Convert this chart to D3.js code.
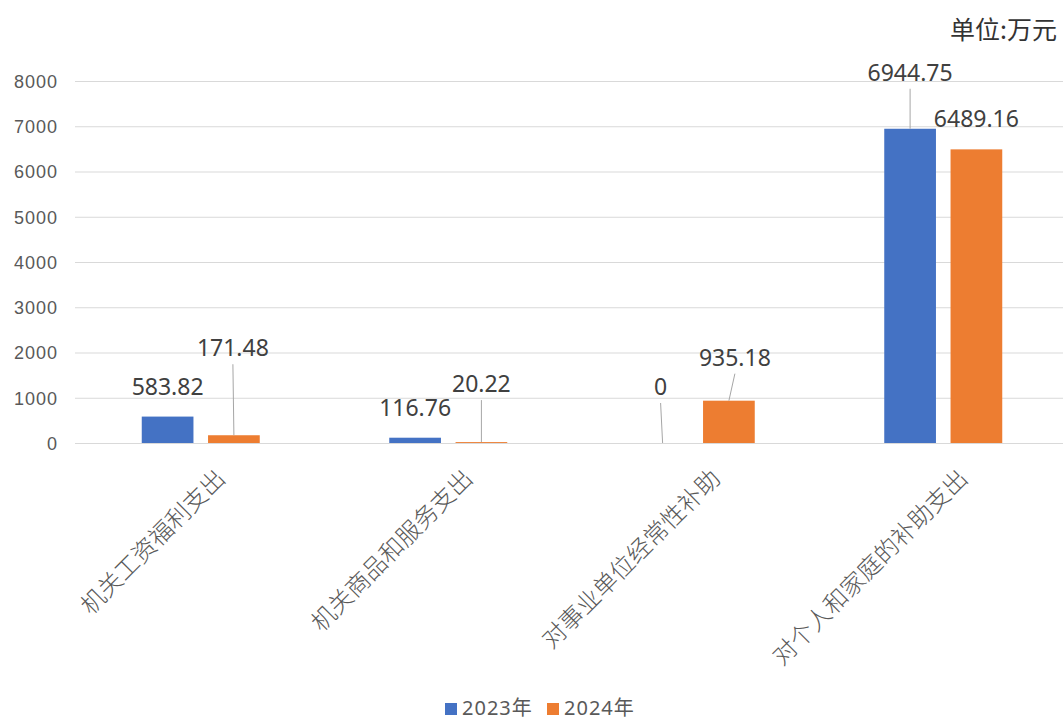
<!DOCTYPE html>
<html>
<head>
<meta charset="utf-8">
<script src="https://cdn.jsdelivr.net/npm/d3@7"></script>
<style>
  body { margin: 0; background: #fff; }
  svg { display: block; font-family: "Noto Sans", "Noto Sans CJK SC", sans-serif; }
</style>
</head>
<body>
<svg id="chart"></svg>
<script>
// data
const categories = ["机关工资福利支出", "机关商品和服务支出", "对事业单位经常性补助", "对个人和家庭的补助支出"];
const seriesNames = ["2023年", "2024年"];
const values2023 = [583.82, 116.76, 0, 6944.75];
const values2024 = [171.48, 20.22, 935.18, 6489.16];
const yTicks = [0, 1000, 2000, 3000, 4000, 5000, 6000, 7000, 8000];

const colors = ["#4472C4", "#ED7D31"];

// label placement (label centre above bar top, leader line or not)
const labelShift2023 = [{dx: 0, dy: 30, line: false}, {dx: 0, dy: 30, line: false}, {dx: -2, dy: 56, line: true}, {dx: 0, dy: 56, line: true}];
const labelShift2024 = [{dx: -1, dy: 87, line: true}, {dx: 0, dy: 58, line: true}, {dx: 6, dy: 43, line: true}, {dx: 0, dy: 30, line: false}];

const svgWidth = 1063, svgHeight = 722;
const margin = {top: 81, right: 0, bottom: 279, left: 75};

const chart = d3.select("#chart")
    .attr("width", svgWidth)
    .attr("height", svgHeight);

var xScale = d3.scaleBand().domain(categories).range([77, 1067]);
var yScale = d3.scaleLinear().domain([0, 8000]).range([443, 81]);
var inner = d3.scaleBand().domain(seriesNames).range([-59, 59]).paddingInner(0.22);

// grid lines
chart.append("g")
    .selectAll("line")
    .data(yTicks)
    .enter().append("line")
    .attr("x1", margin.left)
    .attr("x2", svgWidth)
    .attr("y1", d => yScale(d) + 0.5)
    .attr("y2", d => yScale(d) + 0.5)
    .attr("stroke", "#d9d9d9")
    .attr("stroke-width", 1);

// y axis labels
var yAxis = d3.axisLeft(yScale).tickValues(yTicks).tickFormat(d3.format("d")).tickSize(0).tickPadding(0);
const yg = chart.append("g")
    .attr("transform", "translate(58,0)")
    .call(yAxis);
yg.select(".domain").remove();
yg.selectAll("text")
    .attr("fill", "#595959")
    .style("font-size", "18px")
    .style("letter-spacing", "1px")
    .attr("dy", "0.35em");

// bars
const series = [values2023, values2024];
const shifts = [labelShift2023, labelShift2024];

series.forEach(function(vals, si) {
    const g = chart.append("g");
    g.selectAll("rect")
        .data(vals)
        .enter().append("rect")
        .attr("x", (d, i) => xScale(categories[i]) + xScale.bandwidth() / 2 + inner(seriesNames[si]))
        .attr("y", d => yScale(d))
        .attr("width", inner.bandwidth())
        .attr("height", d => yScale(0) - yScale(d))
        .attr("fill", colors[si]);

    // data labels
    vals.forEach(function(d, i) {
        const cx = xScale(categories[i]) + xScale.bandwidth() / 2 + inner(seriesNames[si]) + inner.bandwidth() / 2;
        const top = yScale(d);
        const s = shifts[si][i];
        const ly = top - s.dy;
        if (s.line) {
            g.append("line")
                .attr("x1", cx + s.dx)
                .attr("y1", ly + 16)
                .attr("x2", cx)
                .attr("y2", top)
                .attr("stroke", "#a6a6a6")
                .attr("stroke-width", 1);
        }
        g.append("text")
            .attr("x", cx + s.dx)
            .attr("y", ly)
            .attr("dy", "0.35em")
            .attr("text-anchor", "middle")
            .attr("fill", "#404040")
            .style("font-size", "23px")
            .text(d);
    });
});

// x axis labels
chart.append("g")
    .selectAll("text")
    .data(categories)
    .enter().append("text")
    .attr("transform", d => "translate(" + (xScale(d) + xScale.bandwidth() / 2 + 20) + ",474) rotate(-45)")
    .attr("text-anchor", "end")
    .attr("dy", "0.35em")
    .attr("fill", "#595959")
    .style("font-family", "'Noto Sans CJK SC', sans-serif")
    .style("font-size", "24px")
    .style("font-weight", "300")
    .text(d => d);

// unit
chart.append("text")
    .attr("x", 1057)
    .attr("y", 30)
    .attr("dy", "0.35em")
    .attr("text-anchor", "end")
    .attr("fill", "#333")
    .style("font-family", "'Noto Sans CJK SC', sans-serif")
    .style("font-size", "25px")
    .text("单位:万元");

// legend
const legend = chart.append("g").attr("transform", "translate(445,708)");
const legendX = [0, 102];
seriesNames.forEach(function(name, i) {
    legend.append("rect")
        .attr("x", legendX[i])
        .attr("y", -5)
        .attr("width", 12)
        .attr("height", 12)
        .attr("fill", colors[i]);
    legend.append("text")
        .attr("x", legendX[i] + 17)
        .attr("y", 0)
        .attr("dy", "0.35em")
        .attr("fill", "#595959")
        .style("font-size", "20px")
        .style("letter-spacing", "1px")
        .text(name);
});
</script>
</body>
</html>
